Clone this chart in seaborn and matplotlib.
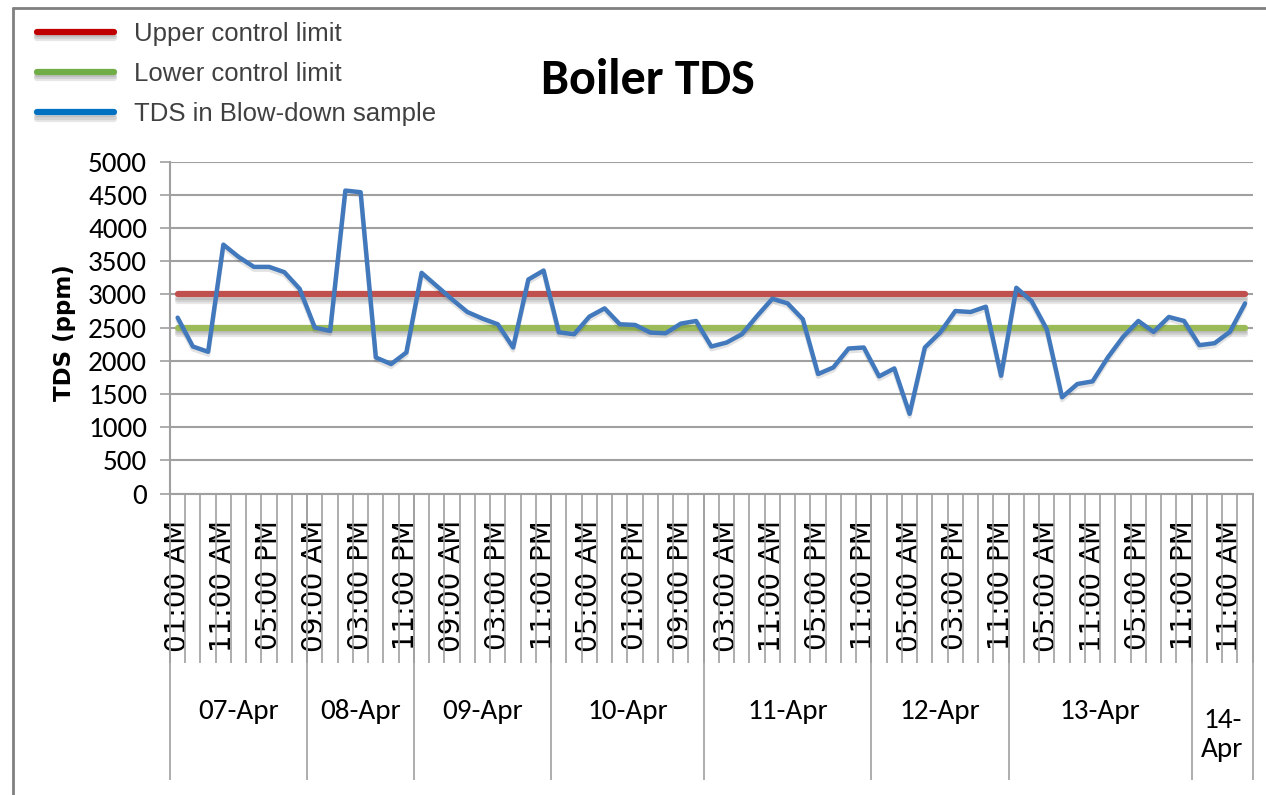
import numpy as np
import pandas as pd
import matplotlib
matplotlib.use("Agg")
import matplotlib.pyplot as plt
import matplotlib.patheffects as pe
from matplotlib.lines import Line2D
import seaborn as sns

# --- data ---
days = ["07-Apr", "08-Apr", "09-Apr", "10-Apr", "11-Apr", "12-Apr", "13-Apr", "14-\nApr"]
samples_per_day = [9, 7, 9, 10, 11, 9, 12, 4]

# only every third sample time is labelled on the axis
time_labels = [
    "01:00 AM", "11:00 AM", "05:00 PM",
    "09:00 AM", "03:00 PM", "11:00 PM",
    "09:00 AM", "03:00 PM", "11:00 PM",
    "05:00 AM", "01:00 PM", "09:00 PM",
    "03:00 AM", "11:00 AM", "05:00 PM", "11:00 PM",
    "05:00 AM", "03:00 PM", "11:00 PM",
    "05:00 AM", "11:00 AM", "05:00 PM", "11:00 PM",
    "11:00 AM",
]
label_every = 3

tds = [2650, 2215, 2135, 3750, 3565, 3415, 3415, 3335, 3085,
       2500, 2450, 4565, 4540, 2050, 1950, 2125,
       3325, 3125, 2925, 2735, 2635, 2550, 2200, 3225, 3360,
       2430, 2400, 2665, 2790, 2550, 2540, 2425, 2415, 2560, 2600,
       2215, 2275, 2400, 2675, 2935, 2865, 2625, 1800, 1900, 2185, 2200,
       1765, 1885, 1200, 2200, 2425, 2750, 2735, 2815, 1775,
       3100, 2900, 2475, 1450, 1650, 1690, 2050, 2360, 2600, 2435, 2660, 2600,
       2235, 2265, 2435, 2865]
upper_limit = 3000
lower_limit = 2500

n = len(tds)
df = pd.DataFrame({"sample": np.arange(n), "TDS": tds})
df["UCL"] = upper_limit
df["LCL"] = lower_limit

sns.set_theme(style="white")
calibri = ["Carlito", "Liberation Sans", "DejaVu Sans"]
plt.rcParams["font.family"] = ["DejaVu Sans"]
plt.rcParams["text.color"] = "black"
plt.rcParams["xtick.color"] = "black"
plt.rcParams["ytick.color"] = "black"

W, H = 1266, 795
fig = plt.figure(figsize=(W / 100, H / 100), dpi=100)
x0, x1, ytop, ybot = 170, 1252.7, 161.7, 493.5
ax = fig.add_axes([x0 / W, 1 - ybot / H, (x1 - x0) / W, (ybot - ytop) / H])

grid_c = "#A0A0A0"


def shadow(lw):
    return [pe.SimpleLineShadow(offset=(0, -o), shadow_color="k", alpha=0.10, linewidth=lw)
            for o in (1.5, 3, 4.5)] + [pe.Normal()]


sns.lineplot(data=df, x="sample", y="UCL", ax=ax, color="#C0504D", lw=4.5,
             path_effects=shadow(4.5), legend=False)
sns.lineplot(data=df, x="sample", y="LCL", ax=ax, color="#9BBB59", lw=4.5,
             path_effects=shadow(4.5), legend=False)
sns.lineplot(data=df, x="sample", y="TDS", ax=ax, color="#4279BD", lw=3.2,
             path_effects=[pe.SimpleLineShadow(offset=(0, -2), alpha=0.12), pe.Normal()],
             legend=False)

# y axis
ax.set_ylim(0, 5000)
ax.set_yticks(np.arange(0, 5001, 500))
ax.yaxis.grid(True, color=grid_c, lw=1.5)
ax.set_axisbelow(True)
ax.tick_params(axis="y", which="major", direction="out", length=7.5, width=1.2,
               color=grid_c, labelcolor="black", pad=9, labelsize=21, left=True)
for t in ax.get_yticklabels():
    t.set_family(calibri)
ax.set_ylabel("")
fig.text(65 / W, 1 - 333 / H, "TDS (ppm)", rotation=90, ha="center", va="center",
         fontsize=16.5, fontweight="bold")

# x axis: categories with boundaries as minor ticks
ax.set_xlim(-0.5, n - 0.5)
label_pos = np.arange(0, n, label_every)
ax.set_xticks(label_pos)
ax.set_xticklabels(time_labels, rotation=90, fontsize=20)
ax.set_xticks(np.arange(-0.5, n, 1), minor=True)
ax.tick_params(axis="x", which="major", length=0, pad=19, bottom=True, labelcolor="black")
ax.tick_params(axis="x", which="minor", direction="out", length=122, width=1.2,
               color=grid_c, bottom=True)
ax.set_xlabel("")

for side in ("top", "right"):
    ax.spines[side].set_visible(False)
for side in ("left", "bottom"):
    ax.spines[side].set_color(grid_c)
    ax.spines[side].set_linewidth(1.5)

# day groups below the time labels
bounds = np.concatenate([[0], np.cumsum(samples_per_day)]) - 0.5
day_bottom = -(780 - ybot) / (ybot - ytop)
ax.vlines(bounds, day_bottom, 0, transform=ax.get_xaxis_transform(), colors=grid_c,
          lw=1.2, clip_on=False)
centers = (bounds[:-1] + bounds[1:]) / 2
for c, d in zip(centers, days):
    yc = (713 + 757) / 2 if "\n" in d else 711
    ax.text(c, -(yc - ybot) / (ybot - ytop), d, transform=ax.get_xaxis_transform(),
            ha="center", va="center", fontsize=21, family=calibri, linespacing=1.25,
            color="black")

# title
fig.text(648 / W, 1 - 80 / H, "Boiler TDS", ha="center", va="center", fontsize=36,
         fontweight="bold", family=calibri, color="black")

# legend
handles = [
    Line2D([], [], color="#C00000", lw=4.5, path_effects=shadow(4.5)),
    Line2D([], [], color="#70AD47", lw=4.5, path_effects=shadow(4.5)),
    Line2D([], [], color="#0070C0", lw=4.5, path_effects=shadow(4.5)),
]
labels = ["Upper control limit", "Lower control limit", "TDS in Blow-down sample"]
leg = fig.legend(handles, labels, loc="upper left", bbox_to_anchor=(37 / W, 1 - 22 / H),
                 frameon=False, handlelength=3.0, handletextpad=0.76,
                 labelspacing=0.63, borderpad=0, borderaxespad=0,
                 prop={"family": ["Liberation Sans", "DejaVu Sans"], "size": 18.5})
for t in leg.get_texts():
    t.set_color("#404040")

# outer frame of the chart object
fc = "#808080"
fig.add_artist(Line2D([13 / W, 13 / W], [0, 1 - 8 / H], transform=fig.transFigure,
                      color=fc, lw=2))
fig.add_artist(Line2D([13 / W, 1], [1 - 8 / H, 1 - 8 / H], transform=fig.transFigure,
                      color=fc, lw=2))

fig.savefig("out.png", dpi=100)
